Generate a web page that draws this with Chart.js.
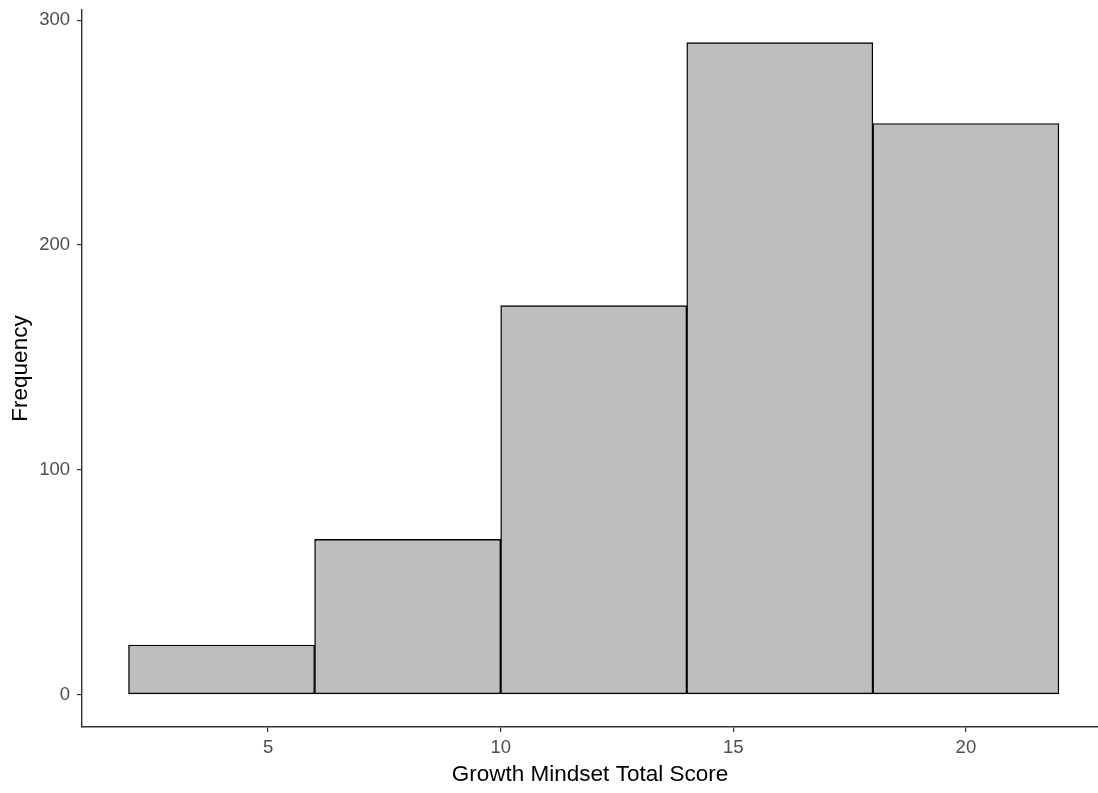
<!DOCTYPE html>
<html>
<head>
<meta charset="utf-8">
<title>Growth Mindset Total Score</title>
<script src="https://cdn.jsdelivr.net/npm/chart.js@4.4.1/dist/chart.umd.min.js"></script>
<style>
    html, body { margin: 0; padding: 0; background: #fff; overflow: hidden; }
    #contenedor { width: 1098px; height: 793px; }
</style>
</head>
<body>
<div id="contenedor"><canvas id="graficoHistograma" width="1098" height="793"></canvas></div>
<script>
// ===================================== Data ==================
var binCentros = [4, 8, 12, 16, 20];          // bins of width 4: 2-6, 6-10, ...
var frecuencias = [22, 69, 173, 290, 254];
var ticksX = [5, 10, 15, 20];
var ticksY = [0, 100, 200, 300];

// ===================================== Styles ==================
var colorRelleno = "#BEBEBE";
var colorBorde = "#000000";
var colorEjes = "#333333";
var colorTicks = "#4D4D4D";
var fuente = "'Liberation Sans', Arial, sans-serif";

var chartHistograma = null;

function cargarHistograma() {
    const puntos = binCentros.map((x, i) => ({ x: x, y: frecuencias[i] }));

    if (chartHistograma) chartHistograma.destroy();

    chartHistograma = new Chart(document.getElementById("graficoHistograma"), {
        type: 'bar',
        data: {
            datasets: [{
                label: 'Frequency',
                data: puntos,
                backgroundColor: colorRelleno,
                borderColor: colorBorde,
                borderWidth: 1.4,
                borderSkipped: false,
                barPercentage: 1,
                categoryPercentage: 1,
                grouped: false
            }]
        },
        options: {
            responsive: false,
            animation: false,
            layout: { padding: { top: 10, left: 0, right: 0, bottom: 0 } },
            plugins: {
                legend: { display: false },
                tooltip: { enabled: false }
            },
            scales: {
                x: {
                    type: 'linear',
                    offset: false,
                    min: 1,
                    max: 22.84,
                    afterBuildTicks: s => { s.ticks = ticksX.map(v => ({ value: v })); },
                    afterFit: s => { s.height = 66; s.paddingLeft = 0; s.paddingRight = 0; },
                    grid: { offset: false, drawOnChartArea: false, drawTicks: true, tickLength: 5, color: colorEjes, lineWidth: 1.2 },
                    border: { display: true, color: colorEjes, width: 1.4 },
                    ticks: { color: colorTicks, font: { family: fuente, size: 18.5 }, padding: 5, maxRotation: 0 },
                    title: {
                        display: true,
                        text: 'Growth Mindset Total Score',
                        color: '#000',
                        font: { family: fuente, size: 22.5 },
                        padding: { top: 0, bottom: 5 }
                    }
                },
                y: {
                    min: -14.5,
                    max: 304.5,
                    afterBuildTicks: s => { s.ticks = ticksY.map(v => ({ value: v })); },
                    afterFit: s => { s.width = 82; s.paddingTop = 0; s.paddingBottom = 0; },
                    grid: { drawOnChartArea: false, drawTicks: true, tickLength: 5, color: colorEjes, lineWidth: 1.2 },
                    border: { display: true, color: colorEjes, width: 1.4 },
                    ticks: { color: colorTicks, font: { family: fuente, size: 18.5 }, padding: 7 },
                    title: {
                        display: true,
                        text: 'Frequency',
                        color: '#000',
                        font: { family: fuente, size: 22.5 },
                        padding: { top: 7, bottom: 0 }
                    }
                }
            }
        }
    });
}

cargarHistograma();
</script>
</body>
</html>
